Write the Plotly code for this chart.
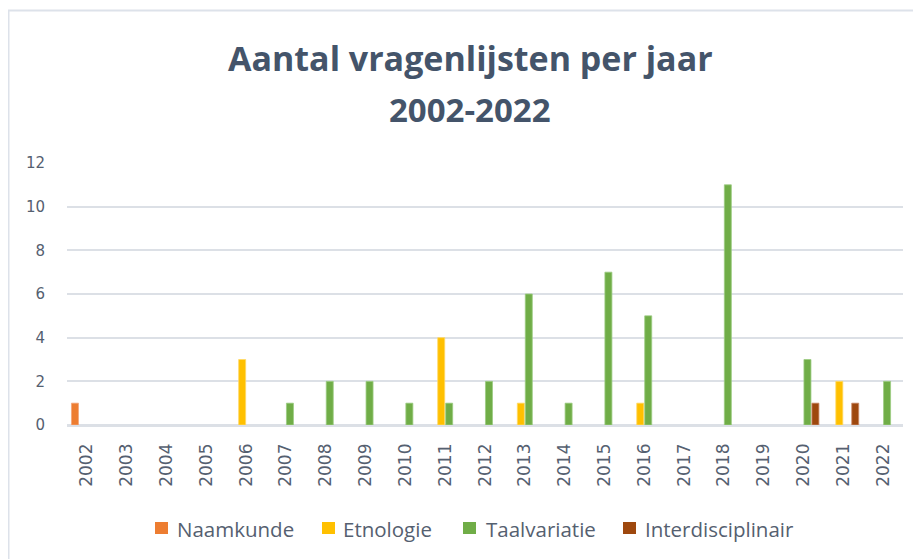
import plotly.graph_objects as go

years = [str(y) for y in range(2002, 2023)]
naamkunde = [1, 0, 0, 0, 0, 0, 0, 0, 0, 0, 0, 0, 0, 0, 0, 0, 0, 0, 0, 0, 0]
etnologie = [0, 0, 0, 0, 3, 0, 0, 0, 0, 4, 0, 1, 0, 0, 1, 0, 0, 0, 0, 2, 0]
taalvariatie = [0, 0, 0, 0, 0, 1, 2, 2, 1, 1, 2, 6, 1, 7, 5, 0, 11, 0, 3, 0, 2]
interdisciplinair = [0, 0, 0, 0, 0, 0, 0, 0, 0, 0, 0, 0, 0, 0, 0, 0, 0, 0, 1, 1, 0]

series_names = ["Naamkunde", "Etnologie", "Taalvariatie", "Interdisciplinair"]
series_values = [naamkunde, etnologie, taalvariatie, interdisciplinair]
series_colors = ["#ED7D31", "#FFC000", "#70AD47", "#9E480E"]
series_edges = ["#F4A57A", "#FFD966", "#9CCB82", "#C9896A"]

# page is drawn with an 8px body margin, so figure coords = page coords - 8
W, H = 913, 551
L, R, T, B = 59, 18, 155, 134
pw, ph = W - L - R, H - T - B


def px_x(v):
    return (v - L) / pw


def px_y(v):
    return (H - B - v) / ph


grid = "#DCE0E6"
tick_col = "#556070"
title_col = "#44546A"

fig = go.Figure()
for name, vals, col, edge in zip(series_names, series_values, series_colors, series_edges):
    fig.add_trace(go.Bar(
        x=years, y=[v if v else None for v in vals], name=name,
        marker=dict(color=col, line=dict(color=edge, width=0.8)),
        showlegend=False,
    ))

# manual legend (square + label), matching the reference layout
legend_sq_x = [147, 314, 455, 615]
legend_tx_x = [167, 333, 476, 635]
legend_y = 520
shapes = []
annotations = []
for name, col, sx, tx in zip(series_names, series_colors, legend_sq_x, legend_tx_x):
    shapes.append(dict(type="rect", xref="paper", yref="paper",
                       x0=px_x(sx), x1=px_x(sx + 13), y0=px_y(legend_y - 6), y1=px_y(legend_y + 6),
                       fillcolor=col, line=dict(width=0)))
    annotations.append(dict(text=name, xref="paper", yref="paper", x=px_x(tx), y=px_y(legend_y + 1),
                            xanchor="left", yanchor="middle", showarrow=False,
                            font=dict(family="Open Sans", size=20.5, color=tick_col)))

annotations += [
    dict(text="<b>Aantal vragenlijsten per jaar</b>", xref="paper", yref="paper",
         x=px_x(462), y=px_y(50), showarrow=False, xanchor="center", yanchor="middle",
         font=dict(family="Open Sans", size=34, color=title_col)),
    dict(text="<b>2002-2022</b>", xref="paper", yref="paper",
         x=px_x(462), y=px_y(102), showarrow=False, xanchor="center", yanchor="middle",
         font=dict(family="Open Sans", size=33, color=title_col)),
]

shapes += [
    dict(type="line", xref="paper", yref="paper", x0=px_x(0), x1=px_x(W + 5),
         y0=px_y(2.5), y1=px_y(2.5), line=dict(color="#DDE2EA", width=2)),
    dict(type="line", xref="paper", yref="paper", x0=px_x(0.5), x1=px_x(0.5),
         y0=px_y(2.5), y1=px_y(H + 5), line=dict(color="#DDE2EA", width=2)),
]

fig.update_layout(
    width=W, height=H,
    margin=dict(l=L, r=R, t=T, b=B, autoexpand=False),
    paper_bgcolor="white", plot_bgcolor="white",
    barmode="group", bargap=0.2, bargroupgap=0.12,
    showlegend=False,
    font=dict(family="Open Sans", color=tick_col),
    annotations=annotations,
    shapes=shapes,
)
fig.update_xaxes(
    type="category", tickangle=-90, showgrid=False, ticks="",
    showline=True, linecolor=grid, linewidth=1.5,
    tickfont=dict(family="DejaVu Sans", size=17, color=tick_col),
    ticklabelstandoff=10,
)
fig.update_yaxes(
    range=[0, 12], dtick=2, showgrid=True, gridcolor=grid, gridwidth=1.5,
    zeroline=True, zerolinecolor=grid, zerolinewidth=1.5, showline=False, ticks="",
    tickfont=dict(family="DejaVu Sans", size=15, color=tick_col),
    ticklabelstandoff=21,
)

fig.write_html("out.html")
